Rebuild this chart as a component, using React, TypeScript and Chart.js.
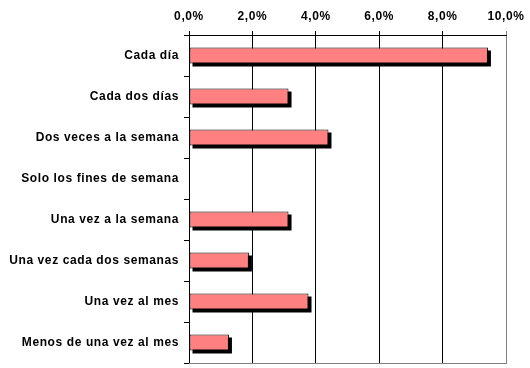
import React, { useEffect, useRef } from "react";
import { Chart, registerables } from "chart.js";

Chart.register(...registerables);

const categories = [
  "Cada día",
  "Cada dos días",
  "Dos veces a la semana",
  "Solo los fines de semana",
  "Una vez a la semana",
  "Una vez cada dos semanas",
  "Una vez al mes",
  "Menos de una vez al mes",
];
const values = [9.43, 3.14, 4.4, 0, 3.14, 1.89, 3.77, 1.26];
const xMin = 0;
const xMax = 10;
const xStep = 2;

const FONT = "'Liberation Sans', Arial, sans-serif";

const shadowPlugin = {
  id: "barShadow",
  beforeDraw(chart: any) {
    chart.ctx.letterSpacing = "0.6px";
  },
  beforeDatasetsDraw(chart: any) {
    const ctx = chart.ctx;
    const meta = chart.getDatasetMeta(0);
    ctx.save();
    ctx.fillStyle = "#000000";
    meta.data.forEach((el: any, i: number) => {
      if (!values[i]) return;
      const p = el.getProps(["x", "y", "base", "height"], true);
      const left = Math.min(p.base, p.x);
      const w = Math.abs(p.x - p.base);
      ctx.fillRect(left + 3, p.y - p.height / 2 + 3, w, p.height);
    });
    ctx.restore();
  },
  afterDraw(chart: any) {
    const { ctx, chartArea } = chart;
    ctx.save();
    ctx.strokeStyle = "#808080";
    ctx.lineWidth = 1;
    ctx.beginPath();
    ctx.moveTo(chartArea.left, Math.round(chartArea.bottom) + 0.5);
    ctx.lineTo(chartArea.right + 1, Math.round(chartArea.bottom) + 0.5);
    ctx.stroke();
    ctx.restore();
  },
};

export default function App() {
  const ref = useRef<HTMLCanvasElement>(null);
  useEffect(() => {
    const chart = new Chart(ref.current as HTMLCanvasElement, {
      type: "bar",
      data: {
        labels: categories,
        datasets: [
          {
            data: values,
            backgroundColor: "#FF8080",
            borderColor: "#000000",
            borderWidth: 1,
            borderSkipped: false,
            categoryPercentage: 1,
            barPercentage: 0.39,
          },
        ],
      },
      plugins: [shadowPlugin],
      options: {
        indexAxis: "y",
        animation: false,
        responsive: false,
        maintainAspectRatio: false,
        layout: { padding: { left: 0, right: 24, top: 0, bottom: 5 } },
        plugins: { legend: { display: false }, tooltip: { enabled: false } },
        scales: {
          x: {
            position: "top",
            min: xMin,
            max: xMax,
            afterFit: (axis: any) => {
              axis.height = 35;
              axis.paddingLeft = 0;
              axis.paddingRight = 0;
            },
            ticks: {
              stepSize: xStep,
              color: "#000",
              padding: 7,
              font: { family: FONT, size: 12, weight: "bold" },
              callback: (v: any) => Number(v).toFixed(1).replace(".", ",") + "%",
            },
            grid: {
              color: (c: any) => (c.tick && c.tick.value === xMax ? "#808080" : "#000000"),
              tickLength: 4,
              lineWidth: 1,
            },
            border: { color: "#000000" },
          },
          y: {
            afterFit: (axis: any) => {
              axis.width = 189;
              axis.paddingTop = 0;
              axis.paddingBottom = 0;
            },
            ticks: {
              color: "#000",
              padding: 5,
              font: { family: FONT, size: 12, weight: "bold" },
            },
            grid: { drawOnChartArea: false, tickLength: 5, color: "#000000" },
            border: { color: "#000000" },
          },
        },
      },
    } as any);
    return () => chart.destroy();
  }, []);
  return (
    <div style={{ position: "absolute", left: 0, top: 0, width: 530, height: 368, background: "#fff" }}>
      <canvas ref={ref} width={530} height={368} style={{ width: 530, height: 368 }} />
    </div>
  );
}
